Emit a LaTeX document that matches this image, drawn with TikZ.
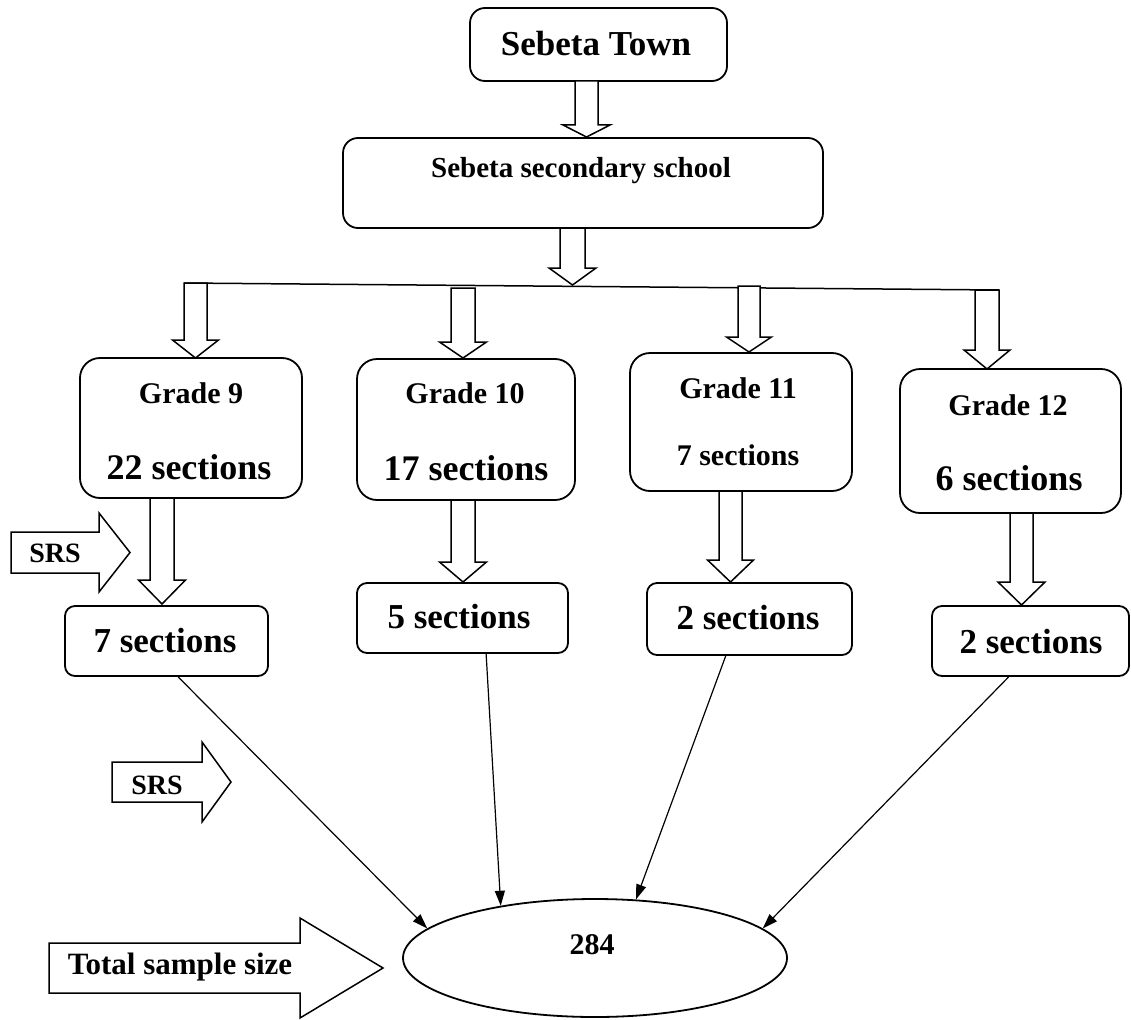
\documentclass[tikz,border=0pt]{standalone}
\usepackage{fontspec}
\setmainfont{Liberation Serif}
\usetikzlibrary{shapes.geometric,arrows.meta,calc}
\newcommand\fsz[1]{\fontsize{#1}{#1}\selectfont\bfseries}
\newcommand\blkdown[6]{% cx, top, base, tip, shaft half, head half
  \draw[blk] ({#1-#5},#2) -- ({#1+#5},#2) -- ({#1+#5},#3) -- ({#1+#6},#3) -- (#1,#4)
    -- ({#1-#6},#3) -- ({#1-#5},#3) -- cycle;}
\newcommand\blkright[6]{% left, cy, base, tip, body half, head half
  \draw[blk] (#1,{#2-#5}) -- (#3,{#2-#5}) -- (#3,{#2-#6}) -- (#4,#2) -- (#3,{#2+#6})
    -- (#3,{#2+#5}) -- (#1,{#2+#5}) -- cycle;}
\tikzset{
  box/.style={draw, line width=1.8pt, rounded corners=#1, inner sep=0pt},
  txt/.style={inner sep=0pt, font=\fsz{#1}},
  blk/.style={draw, line width=1.5pt, fill=white, line join=miter},
  conn/.style={line width=1.2pt, -{Triangle[length=15pt,width=10pt]}},
}
\begin{document}
\begin{tikzpicture}[x=1pt,y=-1pt]
\useasboundingbox (0,0) rectangle (1131,1019);

% top boxes
\node[box=15pt, minimum width=257pt, minimum height=73pt] (town) at (598.5,44.5) {};
\node[txt=35] (towntxt) at (596,44) {Sebeta Town};
\node[box=15pt, minimum width=480pt, minimum height=90pt] (school) at (583,183) {};
\node[txt=29] (schooltxt) at (581,171) {Sebeta secondary school};

\blkdown{586.5}{81}{125}{137}{11.5}{23.5}
\blkdown{572.5}{228}{268}{285}{12.5}{23.5}

% distribution line
\draw[line width=1.5pt] (184,283) -- (999,290);

% arrows to grades
\blkdown{195.5}{283}{340}{358}{11.5}{23}
\blkdown{463}{288}{342}{358}{12}{23.5}
\blkdown{749}{286}{337}{352}{11}{22.5}
\blkdown{987}{290}{350}{369}{12}{23}

% grade boxes
\node[box=20pt, minimum width=222pt, minimum height=140pt] (g9) at (191,428) {};
\node[txt=30] (g9a) at (191,393) {Grade 9};
\node[txt=36] (g9b) at (189,467) {22 sections};
\node[box=20pt, minimum width=218pt, minimum height=141pt] (g10) at (466,429.5) {};
\node[txt=30] (g10a) at (465,393) {Grade 10};
\node[txt=36] (g10b) at (466,468) {17 sections};
\node[box=20pt, minimum width=222pt, minimum height=138pt] (g11) at (741,422) {};
\node[txt=30] (g11a) at (738,388) {Grade 11};
\node[txt=30] (g11b) at (738,455) {7 sections};
\node[box=20pt, minimum width=221pt, minimum height=144pt] (g12) at (1010.5,441) {};
\node[txt=30] (g12a) at (1008,405) {Grade 12};
\node[txt=36] (g12b) at (1009,478) {6 sections};

% arrows to sampled sections
\blkdown{162}{498}{580}{604}{12}{23.5}
\blkdown{463}{500}{562}{582}{12}{23.5}
\blkdown{730.5}{491}{560}{582}{11.5}{23}
\blkdown{1021.5}{513}{582}{605}{11.5}{23.5}

% sampled section boxes
\node[box=10pt, minimum width=203pt, minimum height=70pt] (b9) at (166.5,641) {};
\node[txt=35] (b9t) at (165,641) {7 sections};
\node[box=10pt, minimum width=211pt, minimum height=70pt] (b10) at (462.5,618) {};
\node[txt=35] (b10t) at (459,617) {5 sections};
\node[box=10pt, minimum width=205pt, minimum height=72pt] (b11) at (749.5,619) {};
\node[txt=35] (b11t) at (748,618) {2 sections};
\node[box=10pt, minimum width=197pt, minimum height=70pt] (b12) at (1030.5,641) {};
\node[txt=35] (b12t) at (1031,642) {2 sections};

% side block arrows
\blkright{11}{552.5}{99}{130}{20.5}{39.5}
\node[txt=28] (srs1) at (55,553) {SRS};
\blkright{112}{782}{202}{231}{20}{40}
\node[txt=28] (srs2) at (157,785) {SRS};
\blkright{49}{968}{300}{383}{25}{50}
\node[txt=31] (total) at (180,967) {Total sample size};

% total ellipse
\node[draw, ellipse, line width=1.8pt, minimum width=384pt, minimum height=118pt, inner sep=0pt] (ell) at (595,958) {};
\node[txt=30] (ellt) at (592,945) {284};

% connectors
\draw[conn] ($(b9.south west)!0.557!(b9.south east)$) -- (ell.170);
\draw[conn] ($(b10.south west)!0.611!(b10.south east)$) -- (ell.151);
\draw[conn] ($(b11.south west)!0.385!(b11.south east)$) -- (ell.55);
\draw[conn] ($(b12.south west)!0.39!(b12.south east)$) -- (ell.10);
\end{tikzpicture}
\end{document}
